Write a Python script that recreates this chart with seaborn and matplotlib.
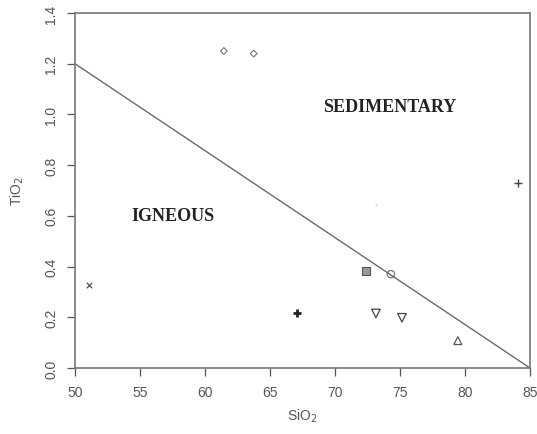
import matplotlib
matplotlib.use("Agg")
import matplotlib.pyplot as plt
import seaborn as sns
import pandas as pd

# Data
sio2 = [61.45, 63.75, 51.1, 84.1, 73.15, 67.1, 72.4, 74.3, 73.15, 75.15, 79.45]
tio2 = [1.25, 1.24, 0.327, 0.73, 0.645, 0.218, 0.383, 0.37, 0.215, 0.198, 0.108]
marker_kind = ["diamond", "diamond", "cross", "plus", "dot", "star",
               "square", "circle", "tri_down", "tri_down", "tri_up"]

boundary_x = [50, 85]
boundary_y = [1.2, 0.0]

x_ticks = [50, 55, 60, 65, 70, 75, 80, 85]
y_ticks = [0.0, 0.2, 0.4, 0.6, 0.8, 1.0, 1.2, 1.4]
y_tick_labels = ["0.0", "0.2", "0.4", "0.6", "0.8", "1.0", "1.2", "1.4"]

region_labels = ["SEDIMENTARY", "IGNEOUS"]
region_x = [74.2, 57.5]
region_y = [1.03, 0.60]

sns.set_theme(style="white")
plt.rcParams["font.family"] = ["Liberation Sans", "DejaVu Sans"]

df = pd.DataFrame({"SiO2": sio2, "TiO2": tio2, "kind": marker_kind})

fig = plt.figure(figsize=(5.37, 4.35), dpi=100)
ax = fig.add_axes([75 / 537, 1 - 369 / 435, 455 / 537, 355 / 435])

sns.lineplot(x=boundary_x, y=boundary_y, ax=ax, color="#6a6a6a", linewidth=1.0)

styles = {
    "diamond": dict(marker="D", s=12, facecolor="none", edgecolor="#777777", linewidth=0.8),
    "cross": dict(marker="x", s=16, color="#555555", linewidth=0.9),
    "plus": dict(marker="+", s=40, color="#444444", linewidth=1.0),
    "dot": dict(marker="^", s=6, color="#cccccc", linewidth=0.5),
    "star": dict(marker="+", s=40, color="#222222", linewidth=2.0),
    "square": dict(marker="s", s=32, facecolor="#999999", edgecolor="#555555", linewidth=0.8),
    "circle": dict(marker="o", s=28, facecolor="none", edgecolor="#777777", linewidth=0.9),
    "tri_down": dict(marker="v", s=38, facecolor="none", edgecolor="#444444", linewidth=0.9),
    "tri_up": dict(marker="^", s=32, facecolor="none", edgecolor="#555555", linewidth=0.9),
}
for kind, st in styles.items():
    sub = df[df["kind"] == kind]
    sns.scatterplot(data=sub, x="SiO2", y="TiO2", ax=ax, legend=False, **st)

for lab, lx, ly in zip(region_labels, region_x, region_y):
    ax.text(lx, ly, lab, ha="center", va="center", fontsize=13,
            fontweight="bold", family=["Liberation Serif", "DejaVu Serif"], color="#222222")

ax.set_xlim(50, 85)
ax.set_ylim(0, 1.4)
ax.set_xticks(x_ticks)
ax.set_yticks(y_ticks)
ax.set_yticklabels(y_tick_labels, rotation=90, va="center")
ax.tick_params(axis="both", which="both", direction="out", length=6, width=0.9,
               color="#555555", labelcolor="#555555", labelsize=10,
               bottom=True, left=True, top=False, right=False, pad=6)
for sp in ax.spines.values():
    sp.set_color("#777777")
    sp.set_linewidth(1.2)

ax.set_xlabel("SiO$_2$", fontsize=10, color="#555555", labelpad=6)
ax.set_ylabel("TiO$_2$", fontsize=10, color="#555555", labelpad=13)

fig.savefig("out.png", dpi=100)
